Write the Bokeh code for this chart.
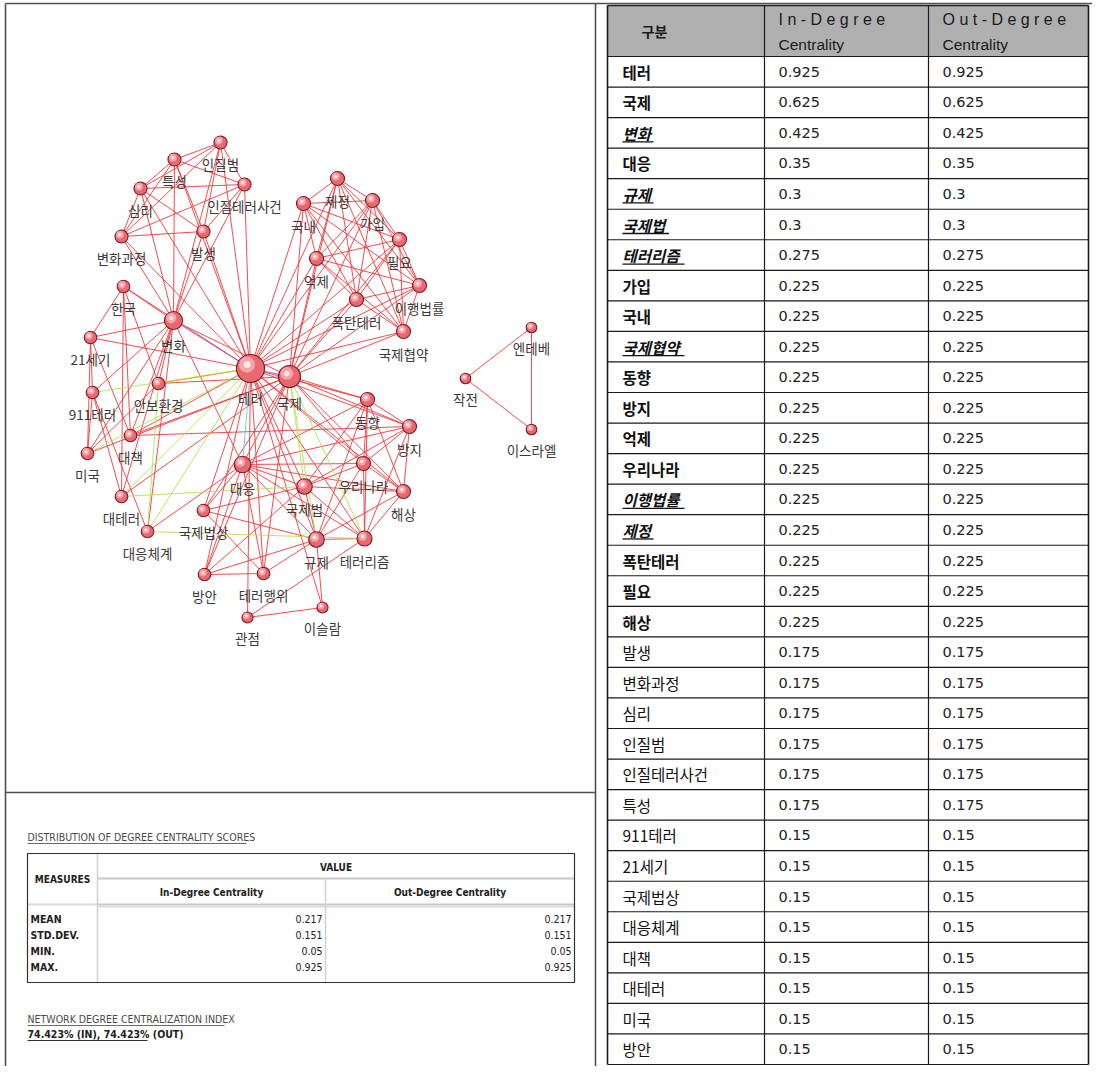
from bokeh.plotting import figure
from bokeh.models import Range1d, ColumnDataSource
from bokeh.embed import file_html
from bokeh.resources import INLINE
from bokeh.core.properties import value

# ---------------- network data ----------------
node_names = ["테러", "국제", "변화", "대응", "규제", "국제법", "테러리즘", "가입", "국내", "국제협약",
              "동향", "방지", "억제", "우리나라", "이행법률", "제정", "폭탄테러", "필요", "해상", "발생",
              "변화과정", "심리", "인질범", "인질테러사건", "특성", "911테러", "21세기", "국제법상", "대응체계", "대책",
              "대테러", "미국", "방안", "안보환경", "테러행위", "한국", "관점", "이슬람", "엔테베", "작전",
              "이스라엘"]
node_x = [250, 289, 173, 242, 316, 304, 364, 372, 303, 403,
          367, 409, 316, 363, 419, 337, 356, 399, 403, 203,
          121, 140, 220, 244, 174, 92, 90, 203, 147, 130,
          121, 87, 204, 158, 263, 123, 247, 322, 531, 465,
          531]
node_y = [368, 376, 320, 464, 539, 486, 538, 200, 203, 331,
          399, 426, 258, 463, 285, 178, 299, 239, 491, 231,
          236, 188, 142, 184, 159, 392, 337, 510, 531, 435,
          496, 453, 574, 383, 573, 286, 617, 607, 327, 378,
          429]

# edges: (from, to, colour kind)  r=red g=green p=purple c=cyan o=orange
edges = [
    ("테러", "국제", "p"), ("테러", "변화", "p"), ("테러", "대응", "c"), ("테러", "규제", "r"),
    ("테러", "국제법", "r"), ("테러", "테러리즘", "r"), ("테러", "가입", "r"), ("테러", "국내", "r"),
    ("테러", "국제협약", "r"), ("테러", "동향", "r"), ("테러", "방지", "r"), ("테러", "억제", "r"),
    ("테러", "우리나라", "r"), ("테러", "이행법률", "r"), ("테러", "제정", "r"), ("테러", "폭탄테러", "r"),
    ("테러", "필요", "r"), ("테러", "해상", "r"), ("테러", "발생", "r"), ("테러", "변화과정", "r"),
    ("테러", "심리", "r"), ("테러", "인질범", "r"), ("테러", "인질테러사건", "r"), ("테러", "특성", "r"),
    ("테러", "911테러", "g"), ("테러", "21세기", "r"), ("테러", "국제법상", "r"), ("테러", "대응체계", "g"),
    ("테러", "대책", "r"), ("테러", "대테러", "g"), ("테러", "미국", "g"), ("테러", "방안", "r"),
    ("테러", "안보환경", "o"), ("테러", "테러행위", "r"), ("테러", "한국", "r"), ("테러", "관점", "r"),
    ("테러", "이슬람", "r"),
    # top-left cluster
    ("발생", "변화과정", "r"), ("발생", "심리", "r"), ("발생", "인질범", "r"), ("발생", "인질테러사건", "r"),
    ("발생", "특성", "r"), ("변화과정", "심리", "r"), ("변화과정", "인질범", "r"), ("변화과정", "인질테러사건", "r"),
    ("변화과정", "특성", "r"), ("심리", "인질범", "r"), ("심리", "인질테러사건", "r"), ("심리", "특성", "r"),
    ("인질범", "인질테러사건", "r"), ("인질범", "특성", "r"), ("인질테러사건", "특성", "r"),
    ("변화", "발생", "r"), ("변화", "변화과정", "r"), ("변화", "심리", "r"), ("변화", "인질범", "r"),
    ("변화", "인질테러사건", "r"), ("변화", "특성", "r"),
    # top-right cluster
    ("가입", "국내", "r"), ("가입", "국제협약", "r"), ("가입", "억제", "r"), ("가입", "이행법률", "r"),
    ("가입", "제정", "r"), ("가입", "폭탄테러", "r"), ("가입", "필요", "r"), ("국내", "국제협약", "r"),
    ("국내", "억제", "r"), ("국내", "이행법률", "r"), ("국내", "제정", "r"), ("국내", "폭탄테러", "r"),
    ("국내", "필요", "r"), ("국제협약", "억제", "r"), ("국제협약", "이행법률", "r"), ("국제협약", "제정", "r"),
    ("국제협약", "폭탄테러", "r"), ("국제협약", "필요", "r"), ("억제", "이행법률", "r"), ("억제", "제정", "r"),
    ("억제", "폭탄테러", "r"), ("억제", "필요", "r"), ("이행법률", "제정", "r"), ("이행법률", "폭탄테러", "r"),
    ("이행법률", "필요", "r"), ("제정", "폭탄테러", "r"), ("제정", "필요", "r"), ("폭탄테러", "필요", "r"),
    ("국제", "가입", "r"), ("국제", "국내", "r"), ("국제", "국제협약", "r"), ("국제", "억제", "r"),
    ("국제", "이행법률", "r"), ("국제", "제정", "r"), ("국제", "폭탄테러", "r"), ("국제", "필요", "r"),
    # 국제
    ("국제", "변화", "r"), ("국제", "대응", "r"), ("국제", "규제", "g"), ("국제", "국제법", "g"),
    ("국제", "테러리즘", "g"), ("국제", "동향", "r"), ("국제", "방지", "r"), ("국제", "우리나라", "r"),
    ("국제", "해상", "r"), ("국제", "국제법상", "r"), ("국제", "방안", "r"), ("국제", "테러행위", "r"),
    ("국제", "대책", "r"), ("국제", "대테러", "r"), ("국제", "안보환경", "r"), ("국제", "미국", "r"),
    # 변화
    ("변화", "한국", "r"), ("변화", "21세기", "r"), ("변화", "911테러", "r"), ("변화", "대책", "r"),
    ("변화", "미국", "r"), ("변화", "대테러", "r"), ("변화", "대응체계", "r"), ("변화", "안보환경", "r"),
    ("변화", "대응", "r"),
    # 대응
    ("대응", "규제", "r"), ("대응", "국제법", "r"), ("대응", "테러리즘", "r"), ("대응", "우리나라", "r"),
    ("대응", "동향", "r"), ("대응", "방지", "r"), ("대응", "해상", "r"), ("대응", "국제법상", "r"),
    ("대응", "방안", "r"), ("대응", "테러행위", "r"), ("대응", "대응체계", "r"),
    # 규제
    ("규제", "국제법", "r"), ("규제", "테러리즘", "r"), ("규제", "우리나라", "r"), ("규제", "동향", "r"),
    ("규제", "해상", "r"), ("규제", "방안", "r"), ("규제", "테러행위", "r"), ("규제", "국제법상", "r"),
    ("규제", "이슬람", "r"),
    # 국제법
    ("국제법", "테러리즘", "r"), ("국제법", "우리나라", "r"), ("국제법", "방지", "r"), ("국제법", "해상", "r"),
    ("국제법", "동향", "r"), ("국제법", "국제법상", "r"), ("국제법", "방안", "r"), ("국제법", "대테러", "g"),
    # 테러리즘
    ("테러리즘", "우리나라", "r"), ("테러리즘", "방지", "r"), ("테러리즘", "해상", "r"), ("테러리즘", "동향", "r"),
    ("테러리즘", "관점", "r"), ("테러리즘", "대응체계", "g"),
    # lower right
    ("동향", "방지", "r"), ("동향", "우리나라", "r"), ("동향", "해상", "r"),
    ("방지", "우리나라", "r"), ("방지", "해상", "r"), ("방지", "대책", "r"),
    ("우리나라", "해상", "r"),
    ("국제법상", "테러행위", "r"), ("방안", "테러행위", "r"), ("관점", "이슬람", "r"),
    # left cluster
    ("21세기", "911테러", "r"), ("21세기", "미국", "r"), ("21세기", "한국", "r"), ("21세기", "대책", "r"),
    ("911테러", "미국", "r"), ("911테러", "대테러", "r"), ("911테러", "대응체계", "r"),
    ("미국", "안보환경", "r"), ("대책", "한국", "r"), ("한국", "대테러", "r"), ("한국", "안보환경", "r"),
    ("대응체계", "안보환경", "g"),
    # separate component
    ("엔테베", "작전", "r"), ("작전", "이스라엘", "r"), ("엔테베", "이스라엘", "r"),
]

# ---------------- centrality table data ----------------
terms = ["테러", "국제", "변화", "대응", "규제", "국제법", "테러리즘", "가입", "국내", "국제협약",
         "동향", "방지", "억제", "우리나라", "이행법률", "제정", "폭탄테러", "필요", "해상", "발생",
         "변화과정", "심리", "인질범", "인질테러사건", "특성", "911테러", "21세기", "국제법상", "대응체계", "대책",
         "대테러", "미국", "방안"]
in_degree = [0.925, 0.625, 0.425, 0.35, 0.3, 0.3, 0.275, 0.225, 0.225, 0.225,
             0.225, 0.225, 0.225, 0.225, 0.225, 0.225, 0.225, 0.225, 0.225, 0.175,
             0.175, 0.175, 0.175, 0.175, 0.175, 0.15, 0.15, 0.15, 0.15, 0.15,
             0.15, 0.15, 0.15]
out_degree = [0.925, 0.625, 0.425, 0.35, 0.3, 0.3, 0.275, 0.225, 0.225, 0.225,
              0.225, 0.225, 0.225, 0.225, 0.225, 0.225, 0.225, 0.225, 0.225, 0.175,
              0.175, 0.175, 0.175, 0.175, 0.175, 0.15, 0.15, 0.15, 0.15, 0.15,
              0.15, 0.15, 0.15]
emphasised = ["변화", "규제", "국제법", "테러리즘", "국제협약", "이행법률", "제정"]
bold_terms = terms[:19]
header_labels = ["구분", "I n - D e g r e e", "O u t - D e g r e e", "Centrality"]

stat_measures = ["MEAN", "STD.DEV.", "MIN.", "MAX."]
stat_in = ["0.217", "0.151", "0.05", "0.925"]
stat_out = ["0.217", "0.151", "0.05", "0.925"]
stat_title = "DISTRIBUTION OF DEGREE CENTRALITY SCORES"
index_title = "NETWORK DEGREE CENTRALIZATION INDEX"
index_value = "74.423% (IN), 74.423% (OUT)"

# ---------------- figure ----------------
W, H = 1092, 1066
p = figure(width=W, height=H, x_range=Range1d(0, W), y_range=Range1d(H, 0),
           output_backend="svg", toolbar_location=None, min_border=0,
           x_axis_location=None, y_axis_location=None, background_fill_color="white")
p.grid.visible = False
p.outline_line_color = None

KR = value("Noto Sans CJK KR")
NARROW = value("DejaVu Sans Condensed, Liberation Sans, sans-serif")

# panel frame lines
frame_col = "#505050"
p.segment(x0=[5, 5, 595, 5], y0=[3, 3, 3, 792], x1=[1092, 5, 595, 595], y1=[3, 1066, 1066, 792],
          line_color=frame_col, line_width=1.6)

# ---- network ----
idx = {n: i for i, n in enumerate(node_names)}
deg = {n: 0 for n in node_names}
for a, b, k in edges:
    deg[a] += 1
    deg[b] += 1
n_minus_1 = len(node_names) - 1
radius = [4.8 + 10.0 * deg[n] / n_minus_1 for n in node_names]

kind_col = {"r": "#f2383c", "g": "#b8e04c", "p": "#8658d6", "c": "#5ad6d6", "o": "#d8a21e"}
order = sorted(range(len(edges)), key=lambda i: edges[i][2] != "r")
ex0 = [node_x[idx[edges[i][0]]] for i in order]
ey0 = [node_y[idx[edges[i][0]]] for i in order]
ex1 = [node_x[idx[edges[i][1]]] for i in order]
ey1 = [node_y[idx[edges[i][1]]] for i in order]
ecol = [kind_col[edges[i][2]] for i in order]
p.segment(x0=ex0, y0=ey0, x1=ex1, y1=ey1, line_color=ecol, line_width=1.0, line_alpha=0.9)

nsrc = ColumnDataSource(dict(
    x=node_x, y=node_y, r=radius,
    hx=[x - 0.25 * r for x, r in zip(node_x, radius)],
    hy=[y - 0.28 * r for y, r in zip(node_y, radius)],
    hr=[0.58 * r for r in radius],
    sr=[0.25 * r for r in radius],
    ly=[y + r + 15 for y, r in zip(node_y, radius)],
    name=node_names,
))
p.circle(x="x", y="y", radius="r", source=nsrc, fill_color="#ea6870", line_color="#7e1a22", line_width=1.1)
p.circle(x="hx", y="hy", radius="hr", source=nsrc, fill_color="#f7abaf", line_color=None, fill_alpha=0.9)
p.circle(x="hx", y="hy", radius="sr", source=nsrc, fill_color="#fde8e8", line_color=None)
p.text(x="x", y="ly", text="name", source=nsrc, text_font=KR, text_font_size=value("13.5px"),
       text_color="#3a3a3a", text_align="center", text_baseline="middle")

# ---- stats block ----
p.text(x=[27], y=[836], text=[stat_title], text_font=NARROW, text_font_size=value("10.5px"),
       text_color="#4a4a4a", text_baseline="middle")
p.segment(x0=[27], y0=[843], x1=[246], y1=[843], line_color="#6a6a6a", line_width=1)

tl, tr, tt, tb = 27, 574, 853, 982
cx1, cx2 = 97, 325
hm, hb = 878, 904
p.segment(x0=[97, 97], y0=[hm, hb], x1=[tr, tr], y1=[hm, hb], line_color="#c8c8c8", line_width=2)
p.segment(x0=[tl, cx1], y0=[hb, hb + 2], x1=[cx1, tr], y1=[hb, hb + 2], line_color="#dcdcdc", line_width=2)
p.segment(x0=[cx1, cx2], y0=[tt, hm], x1=[cx1, cx2], y1=[tb, tb], line_color="#d0d0d0", line_width=1.5)
p.quad(left=[tl], right=[tr], top=[tt], bottom=[tb], fill_color=None, line_color="#303030", line_width=1.2)
p.text(x=[(tl + cx1) / 2, (cx1 + tr) / 2, (cx1 + cx2) / 2, (cx2 + tr) / 2],
       y=[(tt + hb) / 2, (tt + hm) / 2 + 1, (hm + hb) / 2 + 1, (hm + hb) / 2 + 1],
       text=["MEASURES", "VALUE", "In-Degree Centrality", "Out-Degree Centrality"],
       text_font=NARROW, text_font_size=value("10px"), text_font_style="bold",
       text_color="#202020", text_align="center", text_baseline="middle")
row_y = [hb + 14 + 16 * i for i in range(len(stat_measures))]
p.text(x=[tl + 3] * 4, y=row_y, text=stat_measures, text_font=NARROW, text_font_size=value("10.5px"),
       text_font_style="bold", text_color="#202020", text_baseline="middle")
p.text(x=[cx2 - 3] * 4, y=row_y, text=stat_in, text_font=NARROW, text_font_size=value("10.5px"),
       text_color="#202020", text_align="right", text_baseline="middle")
p.text(x=[tr - 3] * 4, y=row_y, text=stat_out, text_font=NARROW, text_font_size=value("10.5px"),
       text_color="#202020", text_align="right", text_baseline="middle")

p.text(x=[27], y=[1018], text=[index_title], text_font=NARROW, text_font_size=value("10.5px"),
       text_color="#4a4a4a", text_baseline="middle")
p.segment(x0=[27], y0=[1025], x1=[224], y1=[1025], line_color="#6a6a6a", line_width=1)
p.text(x=[27], y=[1033], text=[index_value], text_font=NARROW, text_font_size=value("10.5px"),
       text_font_style="bold", text_color="#202020", text_baseline="middle")
p.segment(x0=[27], y0=[1040], x1=[147], y1=[1040], line_color="#303030", line_width=1)

# ---- centrality table ----
col_x = [607, 764, 928, 1088]
head_top, head_bot = 5, 56
table_bot = 1064
nrows = len(terms)
rh = (table_bot - head_bot) / nrows

p.quad(left=[col_x[0]], right=[col_x[3]], top=[head_top], bottom=[head_bot],
       fill_color="#b0b0b0", line_color=None)
hy = [head_bot + rh * i for i in range(nrows + 1)]
p.segment(x0=[col_x[0]] * len(hy), y0=hy, x1=[col_x[3]] * len(hy), y1=hy,
          line_color="#1a1a1a", line_width=1.2)
p.segment(x0=col_x, y0=[head_top] * 4, x1=col_x, y1=[table_bot] * 4, line_color="#1a1a1a",
          line_width=[1.6, 1.2, 1.2, 1.6])
p.segment(x0=[col_x[0]], y0=[head_top], x1=[col_x[3]], y1=[head_top], line_color="#1a1a1a", line_width=1.6)

p.text(x=[col_x[0] + 47], y=[(head_top + head_bot) / 2], text=[header_labels[0]], text_font=KR,
       text_font_size=value("14px"), text_font_style="bold", text_color="#1a1a1a",
       text_align="center", text_baseline="middle")
p.text(x=[col_x[1] + 14, col_x[2] + 14], y=[19, 19], text=header_labels[1:3],
       text_font=value("Liberation Sans"), text_font_size=value("16px"), text_color="#1a1a1a",
       text_baseline="middle")
p.text(x=[col_x[1] + 14, col_x[2] + 14], y=[44, 44], text=[header_labels[3]] * 2,
       text_font=value("Liberation Sans"), text_font_size=value("15.5px"), text_color="#1a1a1a",
       text_baseline="middle")

ry = [head_bot + rh * (i + 0.5) for i in range(nrows)]
styles = []
for t in terms:
    if t in emphasised:
        styles.append("bold italic")
    elif t in bold_terms:
        styles.append("bold")
    else:
        styles.append("normal")
KFS = 15.5
tsrc = ColumnDataSource(dict(x=[col_x[0] + 15] * nrows, y=ry, t=terms, s=styles,
                             vi=[str(v) for v in in_degree], vo=[str(v) for v in out_degree],
                             x1=[col_x[1] + 14] * nrows, x2=[col_x[2] + 14] * nrows))
p.text(x="x", y="y", text="t", text_font_style="s", source=tsrc, text_font=KR,
       text_font_size=value(f"{KFS}px"), text_color="#111111", text_baseline="middle")
p.text(x="x1", y="y", text="vi", source=tsrc, text_font=value("DejaVu Sans"),
       text_font_size=value("14.5px"), text_color="#222222", text_baseline="middle")
p.text(x="x2", y="y", text="vo", source=tsrc, text_font=value("DejaVu Sans"),
       text_font_size=value("14.5px"), text_color="#222222", text_baseline="middle")

ul_x0, ul_x1, ul_y = [], [], []
for t, y in zip(terms, ry):
    if t in emphasised:
        ul_x0.append(col_x[0] + 15)
        ul_x1.append(col_x[0] + 15 + KFS * len(t))
        ul_y.append(y + 9)
p.segment(x0=ul_x0, y0=ul_y, x1=ul_x1, y1=ul_y, line_color="#111111", line_width=1.3)

open("out.html", "w").write(file_html(p, INLINE))
